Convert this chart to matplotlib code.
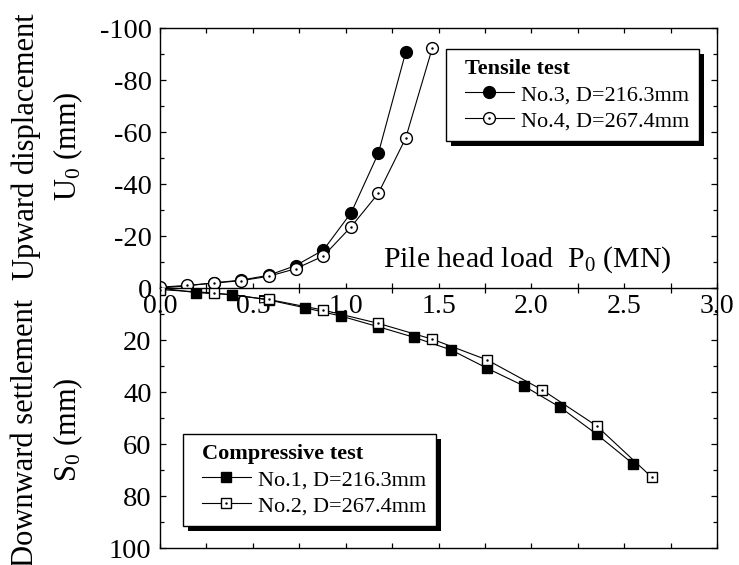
import matplotlib
matplotlib.use("Agg")
import matplotlib.pyplot as plt
import matplotlib.patches as mpatches
from matplotlib.ticker import MultipleLocator
from matplotlib.legend_handler import HandlerTuple

plt.rcParams['font.family'] = 'Liberation Serif'
plt.rcParams['mathtext.fontset'] = 'custom'
plt.rcParams['mathtext.rm'] = 'Liberation Serif'
plt.rcParams['mathtext.it'] = 'Liberation Serif:italic'
plt.rcParams['axes.unicode_minus'] = False

# tensile tests (upward displacement, negative up)
p_no3 = [0, 0.145, 0.29, 0.435, 0.585, 0.73, 0.88, 1.03, 1.176, 1.323]
u_no3 = [0, -0.8, -2.0, -3.0, -4.9, -8.6, -14.6, -29.0, -51.8, -90.6]
p_no4 = [0, 0.145, 0.29, 0.435, 0.585, 0.73, 0.88, 1.03, 1.176, 1.323, 1.467]
u_no4 = [-0.3, -1.0, -1.9, -2.8, -4.5, -7.4, -12.3, -23.6, -36.4, -57.6, -92.4]

# compressive tests (downward settlement)
p_no1 = [0, 0.195, 0.39, 0.585, 0.78, 0.975, 1.176, 1.37, 1.567, 1.763, 1.958, 2.156, 2.351, 2.549]
s_no1 = [0, 1.8, 2.5, 4.6, 7.6, 10.8, 14.9, 19.0, 23.8, 30.9, 37.6, 45.9, 56.2, 67.7]
p_no2 = [0, 0.289, 0.585, 0.88, 1.176, 1.467, 1.763, 2.059, 2.351, 2.649]
s_no2 = [0.6, 1.9, 4.4, 8.5, 13.6, 19.7, 27.7, 39.2, 53.0, 72.8]

W, H = 739, 565
fig = plt.figure(figsize=(W/100, H/100), dpi=100)
L, R = 160/W, 717/W
ax1 = fig.add_axes([L, 1-288/H, R-L, 260/H])
ax2 = fig.add_axes([L, 1-548/H, R-L, 260/H])
ax2.set_facecolor('none')

tfs = 20.5
for ax in (ax1, ax2):
    ax.set_xlim(0, 3.0)
    ax.xaxis.set_major_locator(MultipleLocator(0.5))
    ax.xaxis.set_minor_locator(MultipleLocator(0.25))
    ax.yaxis.set_major_locator(MultipleLocator(20))
    ax.yaxis.set_minor_locator(MultipleLocator(10))
    ax.tick_params(which='both', direction='in', top=True, right=True,
                   labelsize=tfs, width=0.9, pad=6)
    ax.tick_params(which='major', length=4.5)
    ax.tick_params(which='minor', length=3)
    ax.tick_params(axis='x', which='both', length=3.5)
    for s in ax.spines.values():
        s.set_linewidth(1.0)

ax1.set_ylim(0, -100)
ax1.set_yticks([-100, -80, -60, -40, -20, 0])
ax1.tick_params(axis='x', pad=4, labelsize=20)
ax2.set_ylim(100, 0)
ax2.set_yticks([20, 40, 60, 80, 100])
ax2.tick_params(axis='x', top=False, labelbottom=False)
ax2.spines['top'].set_visible(False)

mk = dict(color='black', lw=0.8, markeredgewidth=1.0, markeredgecolor='black')
l3, = ax1.plot(p_no3, u_no3, marker='o', ms=8.5, markerfacecolor='black', **mk)
l4, = ax1.plot(p_no4, u_no4, marker='o', ms=8.5, markerfacecolor='white', **mk)
d4, = ax1.plot(p_no4, u_no4, ls='none', marker='.', ms=1.5, color='black')

l1, = ax2.plot(p_no1, s_no1, marker='s', ms=7.5, markerfacecolor='black', **mk)
l2, = ax2.plot(p_no2, s_no2, marker='s', ms=7.5, markerfacecolor='white', **mk)
d2, = ax2.plot(p_no2, s_no2, ls='none', marker='.', ms=1.5, color='black')

lfs = 16
common = dict(handler_map={tuple: HandlerTuple(ndivide=1)}, alignment='left',
              fontsize=lfs, loc='upper left', borderaxespad=0, frameon=False,
              handlelength=2.2, handletextpad=0.3, labelspacing=0.25,
              borderpad=0.45, title_fontproperties={'weight': 'bold', 'size': lfs})
leg1 = ax1.legend([l3, (l4, d4)], ['No.3, D=216.3mm', 'No.4, D=267.4mm'],
                  title='Tensile test', bbox_to_anchor=((455-160)/557, (288-49)/260),
                  **common)
leg2 = ax2.legend([l1, (l2, d2)], ['No.1, D=216.3mm', 'No.2, D=267.4mm'],
                  title='Compressive test', bbox_to_anchor=((192-160)/557, (548-434)/260),
                  **common)

ax1.text(0.40, 0.081, 'Pile head load  P$_0$ (MN)', transform=ax1.transAxes,
         fontsize=21.5, ha='left', va='baseline')

lab = 22
fig.text(26/W, 1-147/H, 'Upward displacement', rotation=90, fontsize=lab, ha='center', va='center')
fig.text(68/W, 1-146/H, 'U$_0$ (mm)', rotation=90, fontsize=lab, ha='center', va='center')
fig.text(26/W, 1-433/H, 'Downward settlement', rotation=90, fontsize=lab, ha='center', va='center')
fig.text(68/W, 1-430/H, 'S$_0$ (mm)', rotation=90, fontsize=lab, ha='center', va='center')

# legend frames: extra room on the left, black drop shadow
fig.canvas.draw()
for ax, leg in ((ax1, leg1), (ax2, leg2)):
    bb = leg.get_window_extent()
    x0, y0, w, h = bb.x0 - 9, bb.y0, bb.width + 9, bb.height
    sh = mpatches.Rectangle((x0 + 5, y0 - 5), w, h, transform=None,
                            facecolor='black', edgecolor='none', zorder=4.8)
    fr = mpatches.Rectangle((x0, y0), w, h, transform=None, facecolor='white',
                            edgecolor='black', lw=1.0, zorder=4.9)
    ax.add_artist(sh)
    ax.add_artist(fr)

fig.savefig('out.png', dpi=100)
